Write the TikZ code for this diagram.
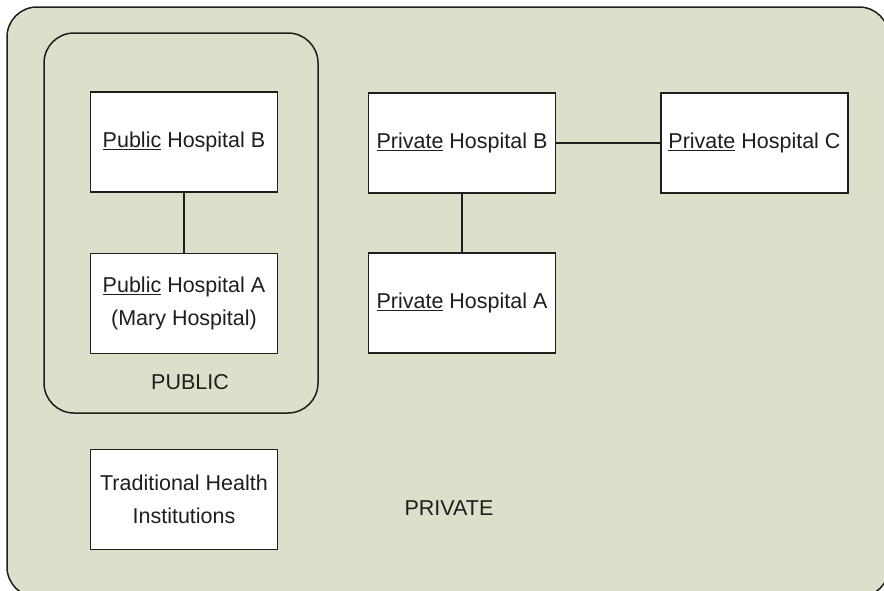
\documentclass[tikz,border=0pt]{standalone}
\usepackage{fontspec}
\setmainfont{Liberation Sans}
\usepackage{tikz}

\definecolor{sector}{HTML}{DCE0CA}
\definecolor{edge}{HTML}{1E1E1E}

\begin{document}
\begin{tikzpicture}
  [x=1pt,y=-1pt,every node/.style={font=\fontsize{21.5}{33}\selectfont,text=edge,align=center},
   hosp/.style={draw=edge,fill=white,line width=1.5pt,minimum width=187pt,minimum height=100pt,inner sep=0pt},
   link/.style={draw=edge,line width=2.6pt}]
  \useasboundingbox (0,0) rectangle (884,590);
  \begin{scope}
    \clip (0,0) rectangle (884,590);
    \draw[edge,fill=sector,line width=1.5pt,rounded corners=30pt] (7,7) rectangle (889,597);
  \end{scope}
  \draw[edge,fill=sector,line width=1.5pt,rounded corners=30pt] (44,33) rectangle (318,413);

  \node[hosp] (pubB) at (184,142)    {\underline{Public} Hospital B};
  \node[hosp] (pubA) at (184,303.5)  {\underline{Public} Hospital A\\(Mary Hospital)};
  \node[hosp] (privB) at (462,143)   {\underline{Private} Hospital B};
  \node[hosp] (privC) at (754.5,143) {\underline{Private} Hospital C};
  \node[hosp] (privA) at (462,303)   {\underline{Private} Hospital A};
  \node[hosp] (trad) at (184,499.5)  {Traditional Health\\Institutions};
  \node (public) at (190,382)  {PUBLIC};
  \node (private) at (449,508) {PRIVATE};

  \foreach \from/\to in {pubB/pubA,privB/privA,privB/privC}
    \draw[link] (\from) -- (\to);
\end{tikzpicture}
\end{document}
